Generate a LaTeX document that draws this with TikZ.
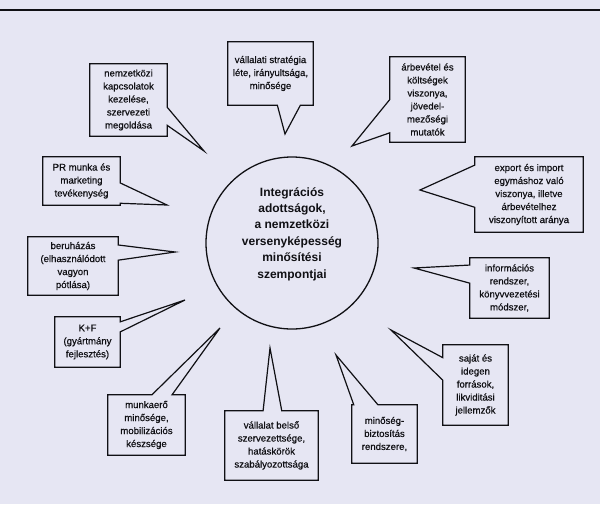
\documentclass[tikz,border=0pt]{standalone}
\usepackage{fontspec}
\setmainfont{Liberation Sans}
\newfontfamily\calloutfont[FakeBold=0.6]{Liberation Sans}
\usetikzlibrary{calc}
\definecolor{paper}{RGB}{230,230,243}
\definecolor{ink}{RGB}{16,16,20}
\begin{document}
\begin{tikzpicture}[x=1pt,y=-1pt,
  box/.style={draw=none, inner sep=0pt, align=center, text=ink,
    font=\calloutfont\fontsize{9.6}{13}\selectfont},
  outline/.style={draw=ink, line width=1.2pt, line join=miter},
  hub/.style={draw=ink, line width=1.3pt, circle, minimum size=172pt, inner sep=0pt},
  hubtext/.style={align=center, text=ink, inner sep=0pt,
    font=\fontsize{12}{16.4}\selectfont\bfseries}]

% page
\fill[paper] (0,0) rectangle (600,504);
\useasboundingbox (0,0) rectangle (600,504);
% rule along the top of the figure
\draw[ink, line width=1.2pt] (0,10) -- (600,10);

% central circle
\node[hub] (c) at (292,243) {};
\node[hubtext] (ct) at (292,234) {Integrációs\\adottságok,\\a nemzetközi\\versenyképesség\\minősítési\\szempontjai};

% callout boxes
\node[box, minimum width=77pt, minimum height=72pt] (n1) at (128.5,100) {nemzetközi\\kapcsolatok\\kezelése,\\szervezeti\\megoldása};
\node[box, minimum width=85pt, minimum height=63pt] (n2) at (270.5,73.5) {vállalati stratégia\\léte, irányultsága,\\minősége};
\node[box, minimum width=75pt, minimum height=85pt] (n3) at (427.5,99.5) {árbevétel és\\költségek\\viszonya,\\jövedel-\\mezőségi\\mutatók};
\node[box, minimum width=108pt, minimum height=75pt] (n4) at (529,194.5) {export és import\\egymáshoz való\\viszonya, illetve\\árbevételhez\\viszonyított aránya};
\node[box, minimum width=79pt, minimum height=60pt] (n5) at (509.5,288) {információs\\rendszer,\\könyvvezetési\\módszer,};
\node[box, minimum width=65pt, minimum height=80pt] (n6) at (475.5,385) {saját és\\idegen\\források,\\likviditási\\jellemzők};
\node[box, minimum width=65pt, minimum height=58pt] (n7) at (384.5,434) {minőség-\\biztosítás\\rendszere,};
\node[box, minimum width=93pt, minimum height=69pt] (n8) at (271.5,445.5) {vállalat belső\\szervezettsége,\\hatáskörök\\szabályozottsága};
\node[box, minimum width=77pt, minimum height=60pt] (n9) at (146.5,425) {munkaerő\\minősége,\\mobilizációs\\készsége};
\node[box, minimum width=65pt, minimum height=50pt] (n10) at (87.5,342) {K+F\\(gyártmány\\fejlesztés)};
\node[box, minimum width=90pt, minimum height=58pt] (n11) at (73,266) {beruházás\\(elhasználódott\\vagyon\\pótlása)};
\node[box, minimum width=77pt, minimum height=48pt] (n12) at (81.5,181) {PR munka és\\marketing\\tevékenység};

% pointer tips
\coordinate (t1) at (204,151);
\coordinate (t2) at (285,134);
\coordinate (t3) at (352,146);
\coordinate (t4) at (420,190);
\coordinate (t5) at (414,268);
\coordinate (t6) at (391,330);
\coordinate (t7) at (336,355);
\coordinate (t8) at (270,348);
\coordinate (t9) at (220,328);
\coordinate (t10) at (185,300);
\coordinate (t11) at (175,252);
\coordinate (t12) at (167,205);

% outlines: pointer on the right side
\draw[outline] (n1.north west) -- (n1.north east) -- ($(n1.north east)!0.6!(n1.south east)$) -- (t1) -- ($(n1.north east)!0.85!(n1.south east)$) -- (n1.south east) -- (n1.south west) -- cycle;
\draw[outline] (n10.north west) -- (n10.north east) -- ($(n10.north east)!0.1!(n10.south east)$) -- (t10) -- ($(n10.north east)!0.3!(n10.south east)$) -- (n10.south east) -- (n10.south west) -- cycle;
\draw[outline] (n11.north west) -- (n11.north east) -- ($(n11.north east)!0.14!(n11.south east)$) -- (t11) -- ($(n11.north east)!0.4!(n11.south east)$) -- (n11.south east) -- (n11.south west) -- cycle;
\draw[outline] (n12.north west) -- (n12.north east) -- ($(n12.north east)!0.54!(n12.south east)$) -- (t12) -- ($(n12.north east)!0.96!(n12.south east)$) -- (n12.south east) -- (n12.south west) -- cycle;

% outlines: pointer on the left side
\draw[outline] (n3.north east) -- (n3.north west) -- ($(n3.north west)!0.5!(n3.south west)$) -- (t3) -- ($(n3.north west)!0.89!(n3.south west)$) -- (n3.south west) -- (n3.south east) -- cycle;
\draw[outline] (n4.north east) -- (n4.north west) -- ($(n4.north west)!0.11!(n4.south west)$) -- (t4) -- ($(n4.north west)!0.67!(n4.south west)$) -- (n4.south west) -- (n4.south east) -- cycle;
\draw[outline] (n5.north east) -- (n5.north west) -- ($(n5.north west)!0.12!(n5.south west)$) -- (t5) -- ($(n5.north west)!0.42!(n5.south west)$) -- (n5.south west) -- (n5.south east) -- cycle;
\draw[outline] (n6.north east) -- (n6.north west) -- ($(n6.north west)!0.16!(n6.south west)$) -- (t6) -- ($(n6.north west)!0.44!(n6.south west)$) -- (n6.south west) -- (n6.south east) -- cycle;

% outlines: pointer on the bottom side
\draw[outline] (n2.north west) -- (n2.north east) -- (n2.south east) -- ($(n2.south west)!0.85!(n2.south east)$) -- (t2) -- ($(n2.south west)!0.58!(n2.south east)$) -- (n2.south west) -- cycle;

% outlines: pointer on the top side
\draw[outline] (n7.south west) -- (n7.north west) -- ($(n7.north west)!0.03!(n7.north east)$) -- (t7) -- ($(n7.north west)!0.4!(n7.north east)$) -- (n7.north east) -- (n7.south east) -- cycle;
\draw[outline] (n8.south west) -- (n8.north west) -- ($(n8.north west)!0.41!(n8.north east)$) -- (t8) -- ($(n8.north west)!0.61!(n8.north east)$) -- (n8.north east) -- (n8.south east) -- cycle;
\draw[outline] (n9.south west) -- (n9.north west) -- ($(n9.north west)!0.57!(n9.north east)$) -- (t9) -- ($(n9.north west)!0.83!(n9.north east)$) -- (n9.north east) -- (n9.south east) -- cycle;

\end{tikzpicture}
\end{document}
